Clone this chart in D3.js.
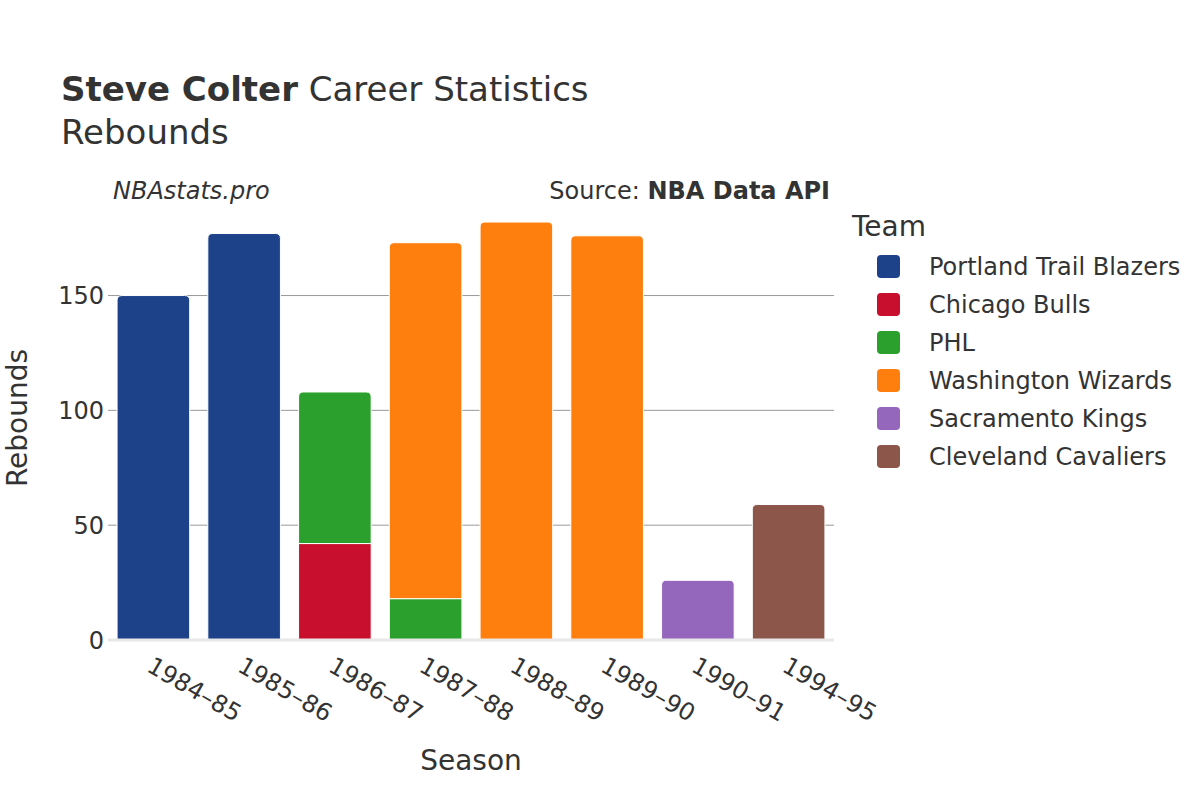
<!DOCTYPE html>
<html>
<head>
<meta charset="utf-8">
<script src="https://cdn.jsdelivr.net/npm/d3@7"></script>
<style>
  body { margin: 0; background: #fff; }
  text { font-family: "DejaVu Sans", sans-serif; fill: #333; }
</style>
</head>
<body>
<svg id="chart" width="1200" height="800"></svg>
<script>
const seasons = ["1984–85", "1985–86", "1986–87", "1987–88", "1988–89", "1989–90", "1990–91", "1994–95"];
const teams = ["Portland Trail Blazers", "Chicago Bulls", "PHL", "Washington Wizards", "Sacramento Kings", "Cleveland Cavaliers"];
const teamColors = ["#1d428a", "#c8102e", "#2ca02c", "#ff7f0e", "#9467bd", "#8c564b"];
// rebounds per season, one array per team (stack order bottom -> top)
const portland   = [150, 177, 0, 0, 0, 0, 0, 0];
const chicago    = [0, 0, 42, 0, 0, 0, 0, 0];
const phl        = [0, 0, 66, 18, 0, 0, 0, 0];
const washington = [0, 0, 0, 155, 182, 176, 0, 0];
const sacramento = [0, 0, 0, 0, 0, 0, 26, 0];
const cleveland  = [0, 0, 0, 0, 0, 0, 0, 59];
const yTicks = [0, 50, 100, 150];

const series = [portland, chicago, phl, washington, sacramento, cleveland];

const svg = d3.select("#chart");
const margin = { left: 108, right: 366, top: 200, bottom: 160 };
const W = 1200 - margin.left - margin.right;
const H = 800 - margin.top - margin.bottom;

const x = d3.scaleBand().domain(seasons).range([0, W]).paddingInner(0.2).paddingOuter(0.1);
const y = d3.scaleLinear().domain([0, 191.6]).range([H, 0]);

const g = svg.append("g").attr("transform", `translate(${margin.left},${margin.top})`);

// grid
g.selectAll(".grid").data(yTicks.filter(d => d > 0)).enter()
  .append("line")
  .attr("x1", 0).attr("x2", W)
  .attr("y1", d => y(d)).attr("y2", d => y(d))
  .attr("stroke", "#999").attr("stroke-width", 1);

// build stacked segments
const rows = seasons.map((s, i) => {
  const r = { season: s };
  teams.forEach((t, k) => r[t] = series[k][i]);
  return r;
});
const stacked = d3.stack().keys(teams)(rows);

// top segment index per season
const topKey = seasons.map((s, i) => {
  let top = -1;
  teams.forEach((t, k) => { if (series[k][i] > 0) top = k; });
  return top;
});

function segPath(x0, x1, y0, y1, r) {
  if (r <= 0) return `M${x0},${y0}V${y1}H${x1}V${y0}Z`;
  return `M${x0},${y0}V${y1 + r}Q${x0},${y1} ${x0 + r},${y1}H${x1 - r}Q${x1},${y1} ${x1},${y1 + r}V${y0}Z`;
}

stacked.forEach((layer, k) => {
  g.selectAll(null).data(layer.map((d, i) => ({ d, i })).filter(o => o.d[1] - o.d[0] > 0))
    .enter().append("path")
    .attr("d", o => {
      const x0 = x(seasons[o.i]), x1 = x0 + x.bandwidth();
      return segPath(x0, x1, y(o.d[0]), y(o.d[1]), topKey[o.i] === k ? 5 : 0);
    })
    .attr("fill", teamColors[k])
    .attr("stroke", "#fff").attr("stroke-width", 1);
});

// zero line
g.append("line").attr("x1", 0).attr("x2", W).attr("y1", y(0)).attr("y2", y(0))
  .attr("stroke", "#e8e8e8").attr("stroke-width", 3);

// y tick labels
g.selectAll(".ytick").data(yTicks).enter().append("text")
  .attr("x", -4).attr("y", d => y(d)).attr("dy", "0.36em")
  .attr("text-anchor", "end").style("font-size", "24px")
  .text(d => d);

// x tick labels
g.selectAll(".xtick").data(seasons).enter().append("text")
  .attr("transform", d => `translate(${x(d) + x.bandwidth() / 2 + 1},${H + 15}) rotate(30)`)
  .attr("dy", "0.75em")
  .style("font-size", "24px")
  .text(d => d);

// axis titles
svg.append("text").attr("x", margin.left + W / 2).attr("y", 770)
  .attr("text-anchor", "middle").style("font-size", "28px").text("Season");
svg.append("text").attr("transform", `translate(17,${margin.top + H / 2 - 2}) rotate(-90)`)
  .attr("text-anchor", "middle").attr("dy", "0.35em").style("font-size", "28px").text("Rebounds");

// title
const title = svg.append("text").attr("x", 61).attr("y", 101).style("font-size", "34px");
title.append("tspan").style("font-weight", "bold").text("Steve Colter");
title.append("tspan").text(" Career Statistics");
svg.append("text").attr("x", 61).attr("y", 144).style("font-size", "34px").text("Rebounds");

svg.append("text").attr("x", 113).attr("y", 199).style("font-size", "24px").style("font-style", "italic").text("NBAstats.pro");
const src = svg.append("text").attr("x", 830).attr("y", 199).attr("text-anchor", "end").style("font-size", "24px");
src.append("tspan").text("Source: ");
src.append("tspan").style("font-weight", "bold").text("NBA Data API");

// legend
const lg = svg.append("g").attr("transform", "translate(852,0)");
lg.append("text").attr("x", 0).attr("y", 236).style("font-size", "28px").text("Team");
const items = lg.selectAll(".item").data(teams).enter().append("g")
  .attr("transform", (d, i) => `translate(0,${266 + i * 38})`);
items.append("rect").attr("x", 25).attr("y", -11).attr("width", 23).attr("height", 23).attr("rx", 4)
  .attr("fill", (d, i) => teamColors[i]);
items.append("text").attr("x", 77).attr("dy", "0.36em").style("font-size", "24px").text(d => d);
</script>
</body>
</html>
